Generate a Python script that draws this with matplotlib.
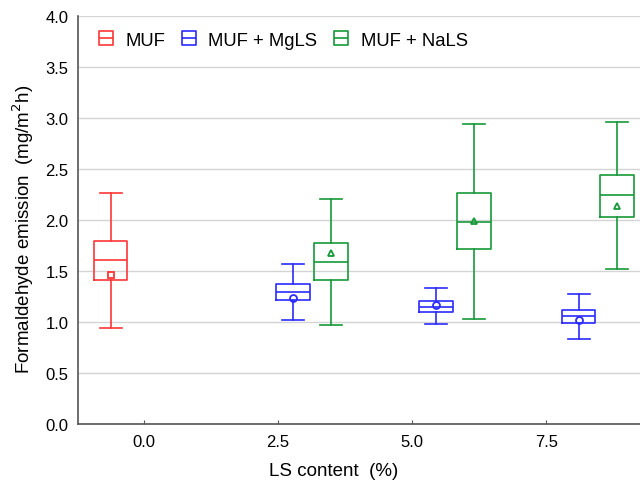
import matplotlib
matplotlib.use("Agg")
import matplotlib.pyplot as plt
from matplotlib.lines import Line2D
from matplotlib.path import Path

plt.rcParams['font.family'] = ['Liberation Sans', 'DejaVu Sans']

# LS content categories (%)
categories = [0.0, 2.5, 5.0, 7.5]
series_names = ['MUF', 'MUF + MgLS', 'MUF + NaLS']

# box statistics: (whislo, q1, med, mean, q3, whishi)
# None = no box for that category
muf = [(0.94, 1.41, 1.61, 1.46, 1.79, 2.26), None, None, None]
muf_mgls = [None,
            (1.02, 1.21, 1.29, 1.23, 1.37, 1.57),
            (0.98, 1.10, 1.15, 1.17, 1.20, 1.33),
            (0.83, 0.99, 1.06, 1.02, 1.12, 1.27)]
muf_nals = [None,
            (0.97, 1.41, 1.59, 1.68, 1.77, 2.21),
            (1.03, 1.71, 1.98, 1.99, 2.26, 2.94),
            (1.52, 2.03, 2.24, 2.14, 2.44, 2.96)]

colors = ['#ff3636', '#2b2bff', '#16993a']
mean_markers = ['s', 'o', '^']

# Statistica-like grouping: group spacing and per-series offset
group_step = 8 / 3
offsets = [-0.62, 0.11, 0.82]

fig = plt.figure(figsize=(6.4, 4.85), dpi=100)
ax = fig.add_axes([0.122, 0.124, 0.878, 0.841])

for s, data in enumerate([muf, muf_mgls, muf_nals]):
    stats, pos = [], []
    for i, d in enumerate(data):
        if d is None:
            continue
        lo, q1, med, mean, q3, hi = d
        stats.append(dict(whislo=lo, q1=q1, med=med, mean=mean, q3=q3,
                          whishi=hi, fliers=[]))
        pos.append(i * group_step + offsets[s])
    c = colors[s]
    ax.bxp(stats, positions=pos, widths=0.62, capwidths=0.41,
           showmeans=True, manage_ticks=False,
           boxprops=dict(color=c, linewidth=1.2),
           whiskerprops=dict(color=c, linewidth=1.2),
           capprops=dict(color=c, linewidth=1.2),
           medianprops=dict(color=c, linewidth=1.2),
           meanprops=dict(marker=mean_markers[s], markerfacecolor='none',
                          markeredgecolor=c, markersize=5, markeredgewidth=1.3))

ax.set_xlim(-1.23, 9.25)
ax.set_ylim(0, 4.0)
ax.set_xticks(categories)
ax.set_xticklabels([f'{v:.1f}' for v in categories])
ax.set_yticks([0, 0.5, 1.0, 1.5, 2.0, 2.5, 3.0, 3.5, 4.0])
ax.set_yticklabels([f'{v:.1f}' for v in ax.get_yticks()])
ax.yaxis.grid(True, color='#d4d4d4', linewidth=1.0)
ax.set_axisbelow(True)
for side in ['top', 'right']:
    ax.spines[side].set_visible(False)
for side in ['left', 'bottom']:
    ax.spines[side].set_color('#555555')
    ax.spines[side].set_linewidth(1.2)
ax.tick_params(axis='x', direction='in', length=3, color='#555555',
               labelsize=12, pad=7)
ax.tick_params(axis='y', length=0, labelsize=12, pad=7)

ax.set_xlabel('LS content  (%)', fontsize=13.5)
ax.set_ylabel('Formaldehyde emission  (mg/m$^2$h)', fontsize=13.5)
ax.xaxis.set_label_coords(0.454, -0.094)
ax.yaxis.set_label_coords(-0.075, 0.478)

# legend icon: square with a horizontal middle line
box_icon = Path([(-1, -1), (1, -1), (1, 1), (-1, 1), (-1, -1), (-1, 0), (1, 0)],
                [Path.MOVETO, Path.LINETO, Path.LINETO, Path.LINETO,
                 Path.CLOSEPOLY, Path.MOVETO, Path.LINETO])
handles = [Line2D([], [], linestyle='none', marker=box_icon, markersize=10.5,
                  markerfacecolor='none', markeredgecolor=c, markeredgewidth=1.2)
           for c in colors]
ax.legend(handles, series_names, loc='center left', ncol=3, frameon=False,
          fontsize=13.3, bbox_to_anchor=(0.036, 0.941), borderpad=0,
          borderaxespad=0, handletextpad=0.65, columnspacing=0.9,
          handlelength=0.8)

fig.savefig('out.png', dpi=100)
